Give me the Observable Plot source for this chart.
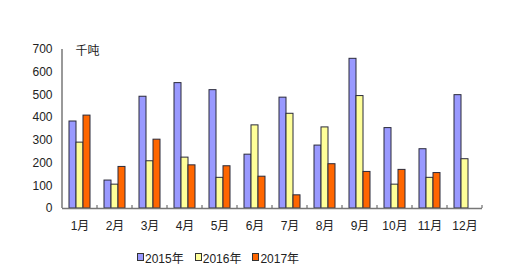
<!DOCTYPE html>
<html><head><meta charset="utf-8">
<script src="https://cdn.jsdelivr.net/npm/d3@7"></script>
<script src="https://cdn.jsdelivr.net/npm/@observablehq/plot@0.6"></script>
<style>
body{margin:0;background:#fff;font-family:"Liberation Sans","Noto Sans CJK SC",sans-serif;}
#legend{display:flex;align-items:center;padding-left:137px;font-size:12px;height:34px;color:#222;}
#legend .item{display:flex;align-items:center;margin-right:11px;}
#legend .sw{width:5px;height:6px;border:1px solid #333;margin-right:1px;}
</style></head><body><div id="chart"></div><div id="legend"></div><script>
const months = ["1月","2月","3月","4月","5月","6月","7月","8月","9月","10月","11月","12月"];
const years = ["2015年","2016年","2017年"];
const v2015 = [383,123,492,552,521,237,488,277,659,354,261,499];
const v2016 = [290,105,208,224,135,366,417,357,495,105,135,217];
const v2017 = [409,183,303,190,186,140,58,195,161,170,156,null];
const colors = ["#9999FF","#FFFF99","#FF6600"];
const yTicks = [0,100,200,300,400,500,600,700];
const unitLabel = "千吨";

const series = [v2015, v2016, v2017];
const data = months.flatMap((m, i) => years.map((yr, k) => ({month: m, year: yr, value: series[k][i]})))
  .filter(d => d.value != null);

const font = '"Liberation Sans","Noto Sans CJK SC",sans-serif';
const plot = Plot.plot({
  width: 518, height: 240,
  marginLeft: 57, marginRight: 31, marginTop: 49, marginBottom: 32,
  style: {fontSize: "12px", fontFamily: font, color: "#222", background: "#fff"},
  fx: {domain: months, padding: 0, label: null, tickSize: 0, tickPadding: 13},
  x: {domain: years, paddingInner: 0, paddingOuter: 0.74, axis: null},
  y: {domain: [0, 700], ticks: yTicks, tickSize: 0, tickPadding: 10, label: null},
  color: {domain: years, range: colors},
  marks: [
    Plot.barY(data, {fx: "month", x: "year", y: "value", fill: "year", stroke: "#2a2a3a", strokeWidth: 1}),
    Plot.ruleY([0], {stroke: "#777", strokeWidth: 1.5}),
    Plot.text([unitLabel], {fx: () => months[0], frameAnchor: "top-left", dx: 13, dy: -3, fontSize: 12, fill: "#222"})
  ]
});
document.getElementById("chart").appendChild(plot);

// axis line and boundary ticks from the library scales
const fx = plot.scale("fx"), y = plot.scale("y");
const svg = d3.select(plot);
const x0 = fx.apply(months[0]);
const bw = fx.bandwidth;
svg.append("line").attr("x1", x0).attr("x2", x0).attr("y1", y.apply(0)).attr("y2", y.apply(700))
  .attr("stroke", "#777").attr("stroke-width", 1.5);
const bounds = months.map(m => fx.apply(m)).concat([fx.apply(months[months.length - 1]) + bw]);
bounds.slice(1).forEach(b => {
  svg.append("line").attr("x1", b).attr("x2", b).attr("y1", y.apply(0)).attr("y2", y.apply(0) - 3)
    .attr("stroke", "#555").attr("stroke-width", 1);
});

const legend = document.getElementById("legend");
years.forEach((yr, k) => {
  const it = document.createElement("div"); it.className = "item";
  const sw = document.createElement("span"); sw.className = "sw"; sw.style.background = colors[k];
  const t = document.createElement("span"); t.textContent = yr;
  it.appendChild(sw); it.appendChild(t); legend.appendChild(it);
});
</script></body></html>
